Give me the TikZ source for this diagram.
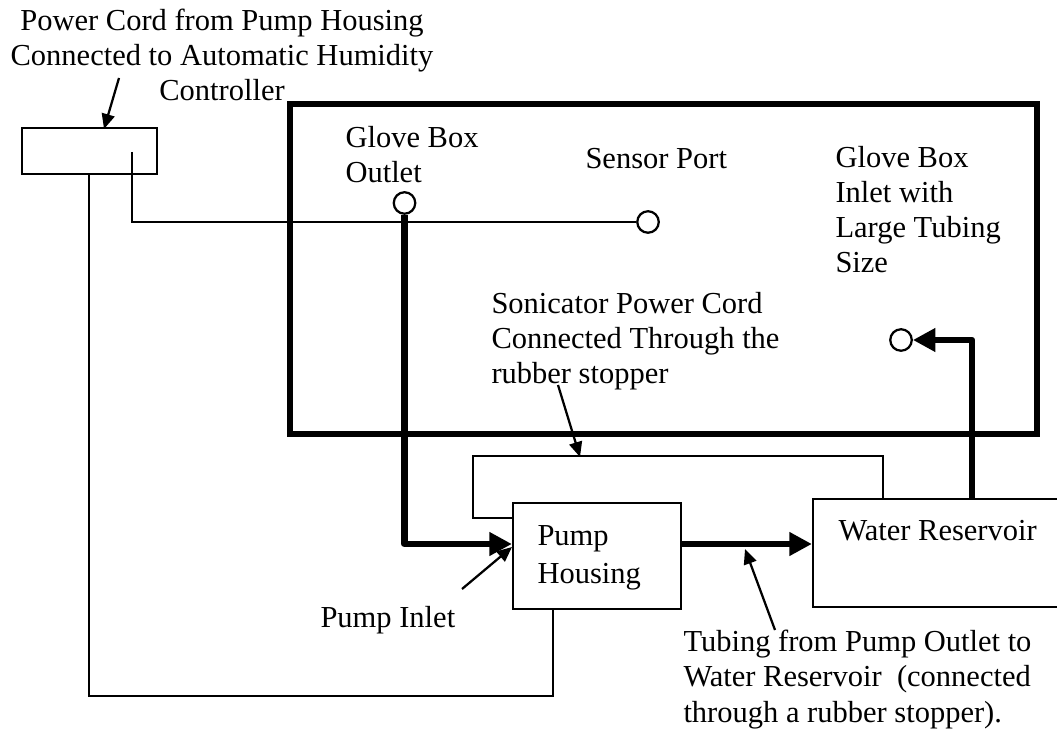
\documentclass[tikz,border=0pt]{standalone}
\usepackage{fontspec}
\setmainfont{Liberation Serif}
\usetikzlibrary{arrows.meta}
\begin{document}
\begin{tikzpicture}[x=0.4pt,y=-0.4pt,
  thinline/.style={line width=0.9pt},
  tube/.style={line width=2.6pt, line join=round},
  wall/.style={line width=2.4pt},
  lbl/.style={font=\fontsize{12.2pt}{14.1pt}\selectfont, align=left, inner sep=0pt, anchor=base west},
  boxnode/.style={draw, thinline, inner sep=0pt},
  port/.style={circle, draw, line width=0.9pt, minimum size=8.6pt, inner sep=0pt, fill=white},
  thinarrow/.style={thinline, -{Triangle[length=6pt,width=5.2pt]}},
  tubearrow/.style={tube, -{Triangle[length=9pt,width=9pt]}},
]
\clip (0,0) rectangle (1057,737);

% glove box
\node[draw, wall, minimum width=298.8pt, minimum height=132pt, inner sep=0pt] (glovebox) at (663.5,269) {};

% boxes
\node[boxnode, minimum width=54pt, minimum height=18.4pt] (ctrl) at (89.5,151) {};
\node[boxnode, minimum width=67.2pt, minimum height=42.4pt] (pump) at (597,556) {};
\node[boxnode, minimum width=99.6pt, minimum height=43.2pt] (res) at (937.5,553) {};

% ports
\node[port] (outlet) at (404.5,203) {};
\node[port] (sensor) at (648,222) {};
\node[port] (inlet) at (901,340) {};

% controller cords
\coordinate (cordA) at (132,152);
\draw[thinline] (cordA) |- (sensor.west);
\coordinate (cb1) at (89,696);
\coordinate (cb2) at (553,696);
\draw[thinline] (ctrl.south -| cb1) -- (cb1) -- (cb2) -- (pump.south -| cb2);

% sonicator cord
\coordinate (sc1) at (473,456);
\coordinate (sc2) at (883,456);
\draw[thinline] (pump.west |- 0,518) -| (sc1) -- (sc2) -- (res.north -| sc2);

% tubing
\draw[tubearrow] (outlet.south) |- (pump.west |- 0,544);
\draw[tubearrow] (pump.east |- 0,544) -- (res.west |- 0,544);
\draw[tubearrow] (res.north -| 972,0) |- (inlet.east);

% labels (anchor at baseline of last line)
\node[lbl, align=center, anchor=base] (ttl) at (222,101) {Power Cord from Pump Housing\\Connected to Automatic Humidity\\Controller};
\node[lbl] (outlbl) at (345,183) {Glove Box\\Outlet};
\node[lbl] (senslbl) at (585,169) {Sensor Port};
\node[lbl] (inlbl) at (835,273) {Glove Box\\Inlet with\\Large Tubing\\Size};
\node[lbl] (soniclbl) at (491,384) {Sonicator Power Cord\\Connected Through the\\rubber stopper};
\node[lbl, font=\fontsize{12.2pt}{15pt}\selectfont] (pumplbl) at (537,583) {Pump\\Housing};
\node[lbl] (reslbl) at (838,540) {Water Reservoir};
\node[lbl] (pinlbl) at (320,627) {Pump Inlet};
\node[lbl] (tubelbl) at (683,722) {Tubing from Pump Outlet to\\Water Reservoir\ \ (connected\\through a rubber stopper).};

% pointer arrows
\coordinate (p1) at (119,78);
\draw[thinarrow] (p1) -- (104,129);
\coordinate (p2) at (558,385);
\draw[thinarrow] (p2) -- (580,457);
\coordinate (p3) at (462,589);
\draw[thinarrow] (p3) -- (512,547);
\coordinate (p4) at (775,630);
\draw[thinarrow] (p4) -- (745,549);
\end{tikzpicture}
\end{document}
